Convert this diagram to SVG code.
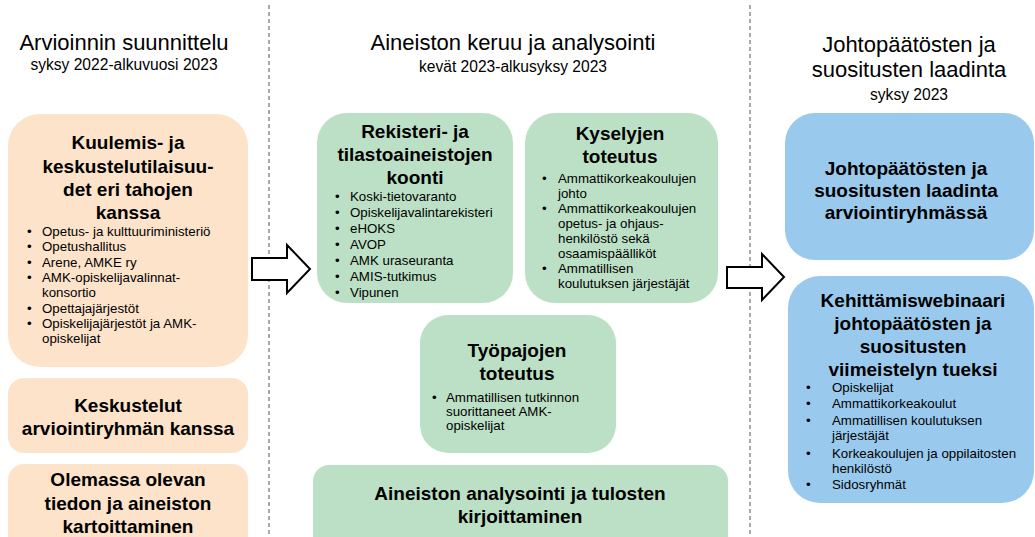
<svg xmlns="http://www.w3.org/2000/svg" width="1035" height="537" viewBox="0 0 1035 537">
<style>
.h{font-family:"Liberation Sans",Arial,sans-serif;font-size:22px;fill:#000;text-anchor:middle}
.s{font-family:"Liberation Sans",Arial,sans-serif;font-size:15.6px;fill:#000;text-anchor:middle}
.t{font-family:"Liberation Sans",Arial,sans-serif;font-size:19px;font-weight:bold;fill:#000;text-anchor:middle}
.b{font-family:"Liberation Sans",Arial,sans-serif;font-size:13.3px;fill:#000}
.or{fill:#FCE3CA}
.gr{fill:#BCE0C6}
.bl{fill:#99CAEE}
.dash{stroke:#555;stroke-width:1;stroke-dasharray:4 3;fill:none}
.arr{fill:#fff;stroke:#000;stroke-width:2;stroke-linejoin:miter}
</style>
<rect width="1035" height="537" fill="#fff"/>
<g id="dividers">
<line class="dash" x1="269" y1="5" x2="269" y2="537"/>
<line class="dash" x1="750" y1="5" x2="750" y2="537"/>
</g>
<g id="headers">
<text class="h" x="124" y="50">Arvioinnin suunnittelu</text>
<text class="s" x="124" y="70">syksy 2022-alkuvuosi 2023</text>
<text class="h" x="513" y="50">Aineiston keruu ja analysointi</text>
<text class="s" x="513" y="72">kevät 2023-alkusyksy 2023</text>
<text class="h" x="909" y="52">Johtopäätösten ja</text>
<text class="h" x="909" y="77">suositusten laadinta</text>
<text class="s" x="909" y="100">syksy 2023</text>
</g>
<g id="kuulemis">
<rect class="or" x="8" y="114" width="240" height="253" rx="32"/>
<text class="t" x="128" y="149">Kuulemis- ja</text>
<text class="t" x="128" y="173">keskustelutilaisuu-</text>
<text class="t" x="128" y="196">det eri tahojen</text>
<text class="t" x="128" y="219">kanssa</text>
<text class="b" x="27" y="236">•</text><text class="b" x="42" y="236">Opetus- ja kulttuuriministeriö</text>
<text class="b" x="27" y="251">•</text><text class="b" x="42" y="251">Opetushallitus</text>
<text class="b" x="27" y="267">•</text><text class="b" x="42" y="267">Arene, AMKE ry</text>
<text class="b" x="27" y="282">•</text><text class="b" x="42" y="282">AMK-opiskelijavalinnat-</text>
<text class="b" x="42" y="297">konsortio</text>
<text class="b" x="27" y="313">•</text><text class="b" x="42" y="313">Opettajajärjestöt</text>
<text class="b" x="27" y="328">•</text><text class="b" x="42" y="328">Opiskelijajärjestöt ja AMK-</text>
<text class="b" x="42" y="343">opiskelijat</text>
</g>
<g id="keskustelut">
<rect class="or" x="8" y="378" width="240" height="75" rx="16"/>
<text class="t" x="128" y="412">Keskustelut</text>
<text class="t" x="128" y="435">arviointiryhmän kanssa</text>
</g>
<g id="olemassa">
<rect class="or" x="8" y="464" width="240" height="100" rx="16"/>
<text class="t" x="128" y="486">Olemassa olevan</text>
<text class="t" x="128" y="510">tiedon ja aineiston</text>
<text class="t" x="128" y="533">kartoittaminen</text>
</g>
<g id="rekisteri">
<rect class="gr" x="317" y="113" width="196" height="190" rx="30"/>
<text class="t" x="415" y="138">Rekisteri- ja</text>
<text class="t" x="415" y="161">tilastoaineistojen</text>
<text class="t" x="415" y="184">koonti</text>
<text class="b" x="335" y="201">•</text><text class="b" x="350" y="201">Koski-tietovaranto</text>
<text class="b" x="335" y="217">•</text><text class="b" x="350" y="217">Opiskelijavalintarekisteri</text>
<text class="b" x="335" y="233">•</text><text class="b" x="350" y="233">eHOKS</text>
<text class="b" x="335" y="249">•</text><text class="b" x="350" y="249">AVOP</text>
<text class="b" x="335" y="265">•</text><text class="b" x="350" y="265">AMK uraseuranta</text>
<text class="b" x="335" y="281">•</text><text class="b" x="350" y="281">AMIS-tutkimus</text>
<text class="b" x="335" y="297">•</text><text class="b" x="350" y="297">Vipunen</text>
</g>
<g id="kyselyjen">
<rect class="gr" x="525" y="113" width="193" height="190" rx="30"/>
<text class="t" x="620" y="140">Kyselyjen</text>
<text class="t" x="620" y="163">toteutus</text>
<text class="b" x="542" y="183">•</text><text class="b" x="558" y="183">Ammattikorkeakoulujen</text>
<text class="b" x="558" y="198">johto</text>
<text class="b" x="542" y="213">•</text><text class="b" x="558" y="213">Ammattikorkeakoulujen</text>
<text class="b" x="558" y="228">opetus- ja ohjaus-</text>
<text class="b" x="558" y="243">henkilöstö sekä</text>
<text class="b" x="558" y="258">osaamispäälliköt</text>
<text class="b" x="542" y="273">•</text><text class="b" x="558" y="273">Ammatillisen</text>
<text class="b" x="558" y="288">koulutuksen järjestäjät</text>
</g>
<g id="tyopajojen">
<rect class="gr" x="420" y="315" width="196" height="138" rx="28"/>
<text class="t" x="517" y="357">Työpajojen</text>
<text class="t" x="517" y="380">toteutus</text>
<text class="b" x="432" y="402">•</text><text class="b" x="446" y="402">Ammatillisen tutkinnon</text>
<text class="b" x="446" y="416">suorittaneet AMK-</text>
<text class="b" x="446" y="430">opiskelijat</text>
</g>
<g id="analysointi">
<rect class="gr" x="313" y="465" width="415" height="100" rx="16"/>
<text class="t" x="520" y="500">Aineiston analysointi ja tulosten</text>
<text class="t" x="520" y="523">kirjoittaminen</text>
</g>
<g id="johtopaatokset">
<rect class="bl" x="785" y="113" width="249" height="147" rx="30"/>
<text class="t" x="906" y="175">Johtopäätösten ja</text>
<text class="t" x="906" y="197">suositusten laadinta</text>
<text class="t" x="906" y="219">arviointiryhmässä</text>
</g>
<g id="webinaari">
<rect class="bl" x="788" y="276" width="246" height="227" rx="32"/>
<text class="t" x="913" y="307">Kehittämiswebinaari</text>
<text class="t" x="913" y="330">johtopäätösten ja</text>
<text class="t" x="913" y="353">suositusten</text>
<text class="t" x="913" y="376">viimeistelyn tueksi</text>
<text class="b" x="806" y="392">•</text><text class="b" x="832" y="392">Opiskelijat</text>
<text class="b" x="806" y="408">•</text><text class="b" x="832" y="408">Ammattikorkeakoulut</text>
<text class="b" x="806" y="425">•</text><text class="b" x="832" y="425">Ammatillisen koulutuksen</text>
<text class="b" x="832" y="440">järjestäjät</text>
<text class="b" x="806" y="458">•</text><text class="b" x="832" y="458">Korkeakoulujen ja oppilaitosten</text>
<text class="b" x="832" y="473">henkilöstö</text>
<text class="b" x="806" y="489">•</text><text class="b" x="832" y="489">Sidosryhmät</text>
</g>
<g id="connectors">
<polygon class="arr" points="252,258 287,258 287,245 310,269 287,293 287,280 252,280"/>
<polygon class="arr" points="727,267 762,267 762,254 784,277 762,300 762,288 727,288"/>
</g>
</svg>
